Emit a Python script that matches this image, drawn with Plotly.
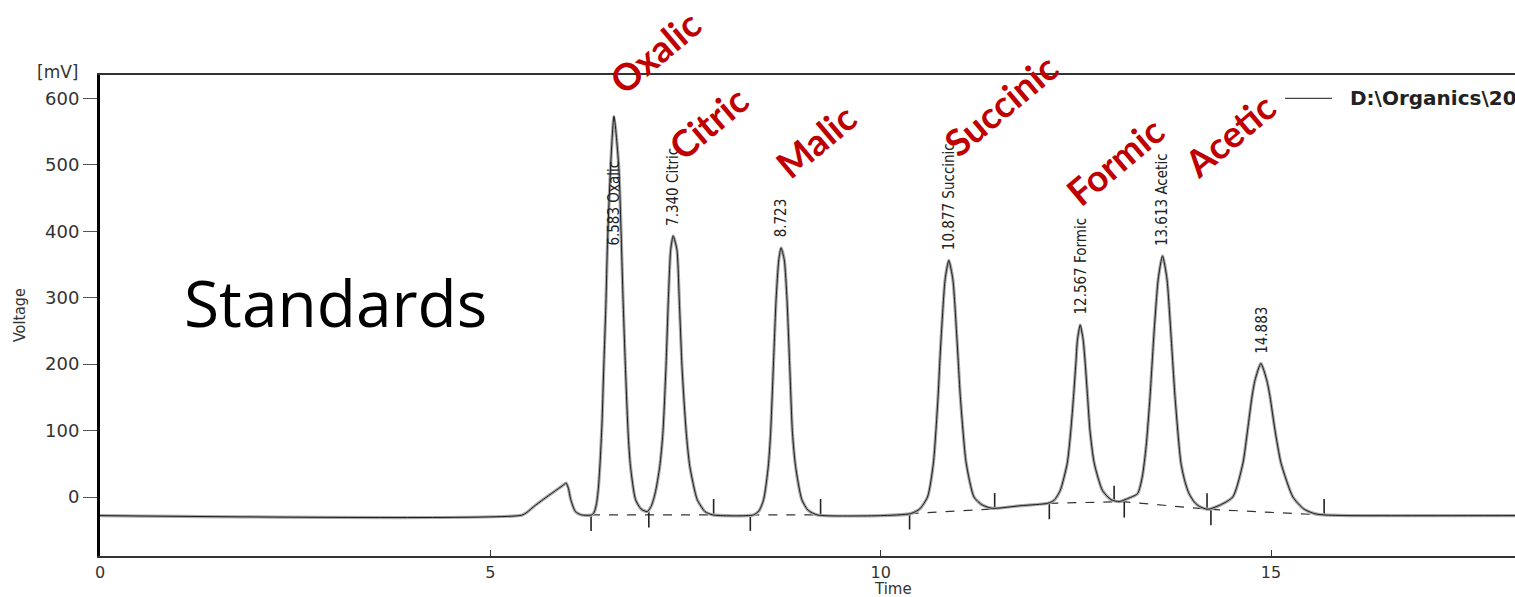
import plotly.graph_objects as go

# ---------------- data ----------------
trace_t = [0, 5.40, 5.47, 5.55, 5.68, 5.81, 5.93, 5.97, 6.00, 6.03, 6.09, 6.17, 6.30,
           6.33, 6.36, 6.385, 6.405, 6.43, 6.45, 6.48, 6.50, 6.54, 6.584, 6.645, 6.675, 6.70,
           6.73, 6.765, 6.795, 6.86, 6.93, 7.01,
           7.06, 7.11, 7.17, 7.21, 7.25, 7.28, 7.31, 7.342, 7.39, 7.42, 7.455, 7.51, 7.555,
           7.65, 7.75, 7.85,
           8.37, 8.44, 8.50, 8.56, 8.59, 8.625, 8.66, 8.695, 8.723, 8.765, 8.80, 8.835, 8.87,
           8.91, 8.99, 9.07, 9.19,
           10.0, 10.385, 10.50, 10.60, 10.675, 10.735, 10.756, 10.78, 10.825, 10.872, 10.925,
           10.97, 10.995, 11.02, 11.095, 11.195, 11.30, 11.43,
           11.8, 12.14, 12.22, 12.30, 12.39, 12.436, 12.47, 12.50, 12.52, 12.556, 12.594,
           12.62, 12.65, 12.68, 12.735, 12.84, 12.95, 13.055,
           13.15, 13.29, 13.35, 13.40, 13.45, 13.50, 13.555, 13.61, 13.667, 13.718, 13.77,
           13.846, 13.90, 13.95, 14.02, 14.08, 14.19,
           14.35, 14.51, 14.64, 14.70, 14.756, 14.795, 14.87, 14.945, 14.987, 15.05, 15.128,
           15.28, 15.42, 15.555, 15.68, 16.0, 18.2]
trace_mv = [-28, -27.5, -23, -15, -3.5, 7.5, 17.5, 21, 13, -4, -22, -27, -27,
            -23, -10, 15, 50, 110, 185, 290, 380, 497, 573, 497, 397, 297,
            196, 96, 46, -4, -18, -22,
            -14, 5, 46, 96, 196, 297, 372, 393, 372, 297, 196, 96, 46,
            -4, -22, -27,
            -27, -21, -4, 46, 96, 196, 297, 357, 375, 357, 297, 196, 96,
            46, -4, -20, -27,
            -28, -25, -18, 0, 51, 151, 201, 251, 327, 356, 327,
            251, 201, 151, 51, 0, -12, -17,
            -13, -9.5, -5, 10, 51, 101, 151, 201, 236, 259, 236,
            201, 151, 101, 51, 10, -4, -7,
            -3, 5, 30, 76, 151, 245, 328, 363, 328, 245, 151,
            51, 22, 5, -8, -14, -18.5,
            -12, 0, 51, 101, 151, 176, 201, 176, 151, 101, 51,
            0, -18, -25, -27, -28, -28]

# integration baseline (dashed) segments, None separates segments
baseline_t = [6.29, 7.86, None, 8.33, 9.23, None, 10.37, 11.46, None, 12.16, 13.10, 14.20, 15.68]
baseline_mv = [-27, -27, None, -27, -27, None, -25, -18, None, -9.5, -7, -18.5, -27]

# integration event markers: time, level, direction (+1 up / -1 down)
event_t = [6.29, 7.03, 7.86, 8.33, 9.23, 10.37, 11.46, 12.16, 12.99, 13.12, 14.18, 14.23, 15.68]
event_mv = [-27, -22, -27, -27, -27, -25, -18, -9.5, -7, -7, -18.5, -18.5, -27]
event_dir = [-1, -1, 1, -1, 1, -1, 1, -1, 1, -1, 1, -1, 1]

# peak table
peak_rt = [6.583, 7.340, 8.723, 10.877, 12.567, 13.613, 14.883]
peak_apex = [573, 393, 375, 356, 259, 363, 201]
peak_names = ["Oxalic", "Citric", "", "Succinic", "Formic", "Acetic", ""]

# slide call-outs
callout_names = ["Oxalic", "Citric", "Malic", "Succinic", "Formic", "Acetic"]
callout_t = [7.11, 7.79, 9.17, 11.54, 13.00, 14.47]
callout_mv = [670, 563, 536, 590, 507, 545]

y_ticks = [0, 100, 200, 300, 400, 500, 600]
x_ticks = [0, 5, 10, 15]
legend_text = "D:\\Organics\\20"

Y_MIN, Y_MAX = -88.8, 635.1

# ---------------- figure ----------------
fig = go.Figure()

fig.add_trace(go.Scatter(x=baseline_t, y=baseline_mv, mode="lines",
                         line=dict(color="#333333", width=1.2, dash="dash"),
                         hoverinfo="skip", showlegend=False))

tick_len = 24
ev_x, ev_y = [], []
for t, b, d in zip(event_t, event_mv, event_dir):
    ev_x += [t, t, None]
    ev_y += [b, b + d * tick_len, None]
fig.add_trace(go.Scatter(x=ev_x, y=ev_y, mode="lines",
                         line=dict(color="#222222", width=1.6),
                         hoverinfo="skip", showlegend=False))

fig.add_trace(go.Scatter(x=trace_t, y=trace_mv, mode="lines",
                         line=dict(color="#a8a8a8", width=3.2, shape="spline", smoothing=0.6),
                         hoverinfo="skip", showlegend=False))
fig.add_trace(go.Scatter(x=trace_t, y=trace_mv, mode="lines",
                         line=dict(color="#1e1e1e", width=1.0, shape="spline", smoothing=0.6),
                         showlegend=False))

narrow = "Liberation Sans Narrow, DejaVu Sans Condensed, Arial Narrow, sans-serif"
wide = "DejaVu Sans, Verdana, sans-serif"


def to_paper_y(v):
    return (v - Y_MIN) / (Y_MAX - Y_MIN)


annotations = []
for i, (rt, apex, name) in enumerate(zip(peak_rt, peak_apex, peak_names)):
    label = f"{rt:.3f} {name}".strip()
    ybot = apex + 12
    if i == 0:
        ybot = 376
    annotations.append(dict(x=rt, y=ybot, xref="x", yref="y", text=label, showarrow=False,
                            textangle=-90, xanchor="center", yanchor="bottom",
                            font=dict(family=narrow, size=15, color="#222222")))

for name, t, mv in zip(callout_names, callout_t, callout_mv):
    annotations.append(dict(x=t, y=to_paper_y(mv), xref="x", yref="paper", text=f"<b>{name}</b>",
                            showarrow=False, textangle=-40, xanchor="center", yanchor="middle",
                            font=dict(family="Lato, Open Sans, sans-serif", size=37, color="#C00000")))

annotations += [
    dict(x=3.02, y=293, xref="x", yref="y", text="Standards", showarrow=False,
         font=dict(family="Comic Sans MS, Open Sans, sans-serif", size=64, color="#000000")),
    dict(x=-0.0297, y=1.006, xref="paper", yref="paper", text="[mV]", showarrow=False,
         xanchor="center", yanchor="middle",
         font=dict(family=wide, size=17, color="#333333")),
    dict(x=-0.0565, y=274, xref="paper", yref="y", text="Voltage", showarrow=False,
         textangle=-90, xanchor="center", yanchor="middle",
         font=dict(family=narrow, size=16, color="#333333")),
    dict(x=10.16, y=-0.0686, xref="x", yref="paper", text="Time", showarrow=False,
         xanchor="center", yanchor="middle",
         font=dict(family=wide, size=15, color="#333333")),
    dict(x=15.99, y=600, xref="x", yref="y", text=f"<b>{legend_text}</b>", showarrow=False,
         xanchor="left", yanchor="middle",
         font=dict(family=wide, size=20, color="#222222")),
]

fig.add_shape(type="line", x0=15.18, x1=15.78, y0=600, y1=600, xref="x", yref="y",
              line=dict(color="#444444", width=1.3))

fig.update_layout(
    width=1515, height=597,
    margin=dict(l=100, r=0, t=75, b=41, autoexpand=False),
    paper_bgcolor="white", plot_bgcolor="white",
    annotations=annotations,
    xaxis=dict(range=[0, 18.125], tickvals=x_ticks, ticks="inside", ticklen=6,
               tickcolor="#333333", showline=True, linecolor="#333333", linewidth=1.5,
               mirror=True, showgrid=False, zeroline=False, automargin=False,
               ticklabelstandoff=1,
               tickfont=dict(family=wide, size=16, color="#333333")),
    yaxis=dict(range=[Y_MIN, Y_MAX], tickvals=y_ticks, ticks="outside", ticklen=14,
               tickcolor="#555555", tickwidth=1, showline=True, linecolor="#000000",
               linewidth=3, showgrid=False, zeroline=False, automargin=False,
               tickfont=dict(family=wide, size=18, color="#333333")),
)

fig.write_html("out.html", config={"displayModeBar": False},
               post_script="document.body.style.margin='0px';")
